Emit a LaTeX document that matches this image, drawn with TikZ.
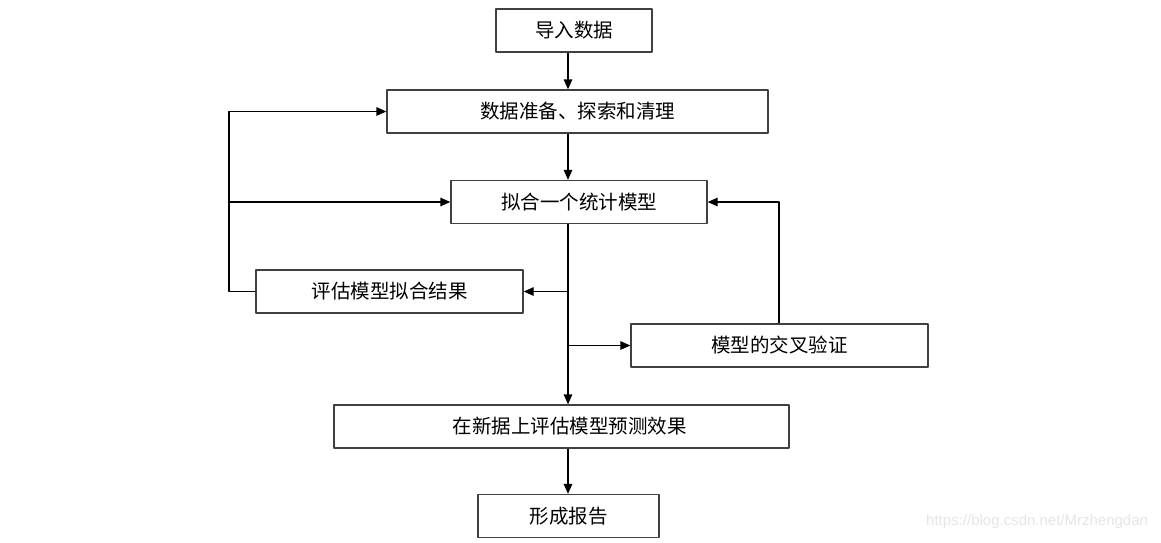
\documentclass[tikz,border=0pt]{standalone}
\usepackage{fontspec}
\newfontfamily\cjk{Noto Sans CJK SC}
\newfontfamily\markfont{Liberation Sans}
\usetikzlibrary{arrows.meta}
\tikzset{box/.style={draw=black!75, line width=1.3pt, minimum height=43pt, inner sep=0pt, fill=white}}
\begin{document}
\begin{tikzpicture}[x=1pt, y=-1pt, font=\cjk\fontsize{19.5}{22}\selectfont, line join=round, line width=1.3pt, >={Stealth[length=10pt,width=8.5pt,inset=0pt]}]
	\useasboundingbox (0,0) rectangle (1161,542);
	\node[box, minimum width=156pt] (import) at (574,30.5) {导入数据};
	\node[box, minimum width=381pt] (prep) at (577.5,111.5) {数据准备、探索和清理};
	\node[box, minimum width=256pt] (fit) at (579,202) {拟合一个统计模型};
	\node[box, minimum width=267pt] (evalfit) at (389.5,291.5) {评估模型拟合结果};
	\node[box, minimum width=297pt] (cv) at (779.5,345.5) {模型的交叉验证};
	\node[box, minimum width=455pt] (test) at (561.5,426.5) {\hspace{16pt}在新据上评估模型预测效果};
	\node[box, minimum width=181pt] (report) at (568.5,516) {形成报告};
	\coordinate (spine) at (568,0);
	\coordinate (lft) at (229,0);
	\coordinate (back) at (779,0);
	% main line
	\draw[->] (import.south -| spine) -- (prep.north -| spine);
	\draw[->] (prep.south -| spine) -- (fit.north -| spine);
	\draw[->] (fit.south -| spine) -- (test.north -| spine);
	\draw[->] (test.south -| spine) -- (report.north -| spine);
	\draw[->] (evalfit.east -| spine) -- (evalfit.east);
	\draw[->] (cv.west -| spine) -- (cv.west);
	% feedback loops
	\draw[->] (cv.north -| back) |- (fit.east);
	\draw[->] (evalfit.west) -- (evalfit.west -| lft) |- (prep.west);
	\draw[->] (fit.west -| lft) -- (fit.west);
	\node[text=black!10, font=\markfont\fontsize{15}{17}\selectfont, anchor=east] (mark) at (1152,522) {https://blog.csdn.net/Mrzhengdan};
\end{tikzpicture}
\end{document}
